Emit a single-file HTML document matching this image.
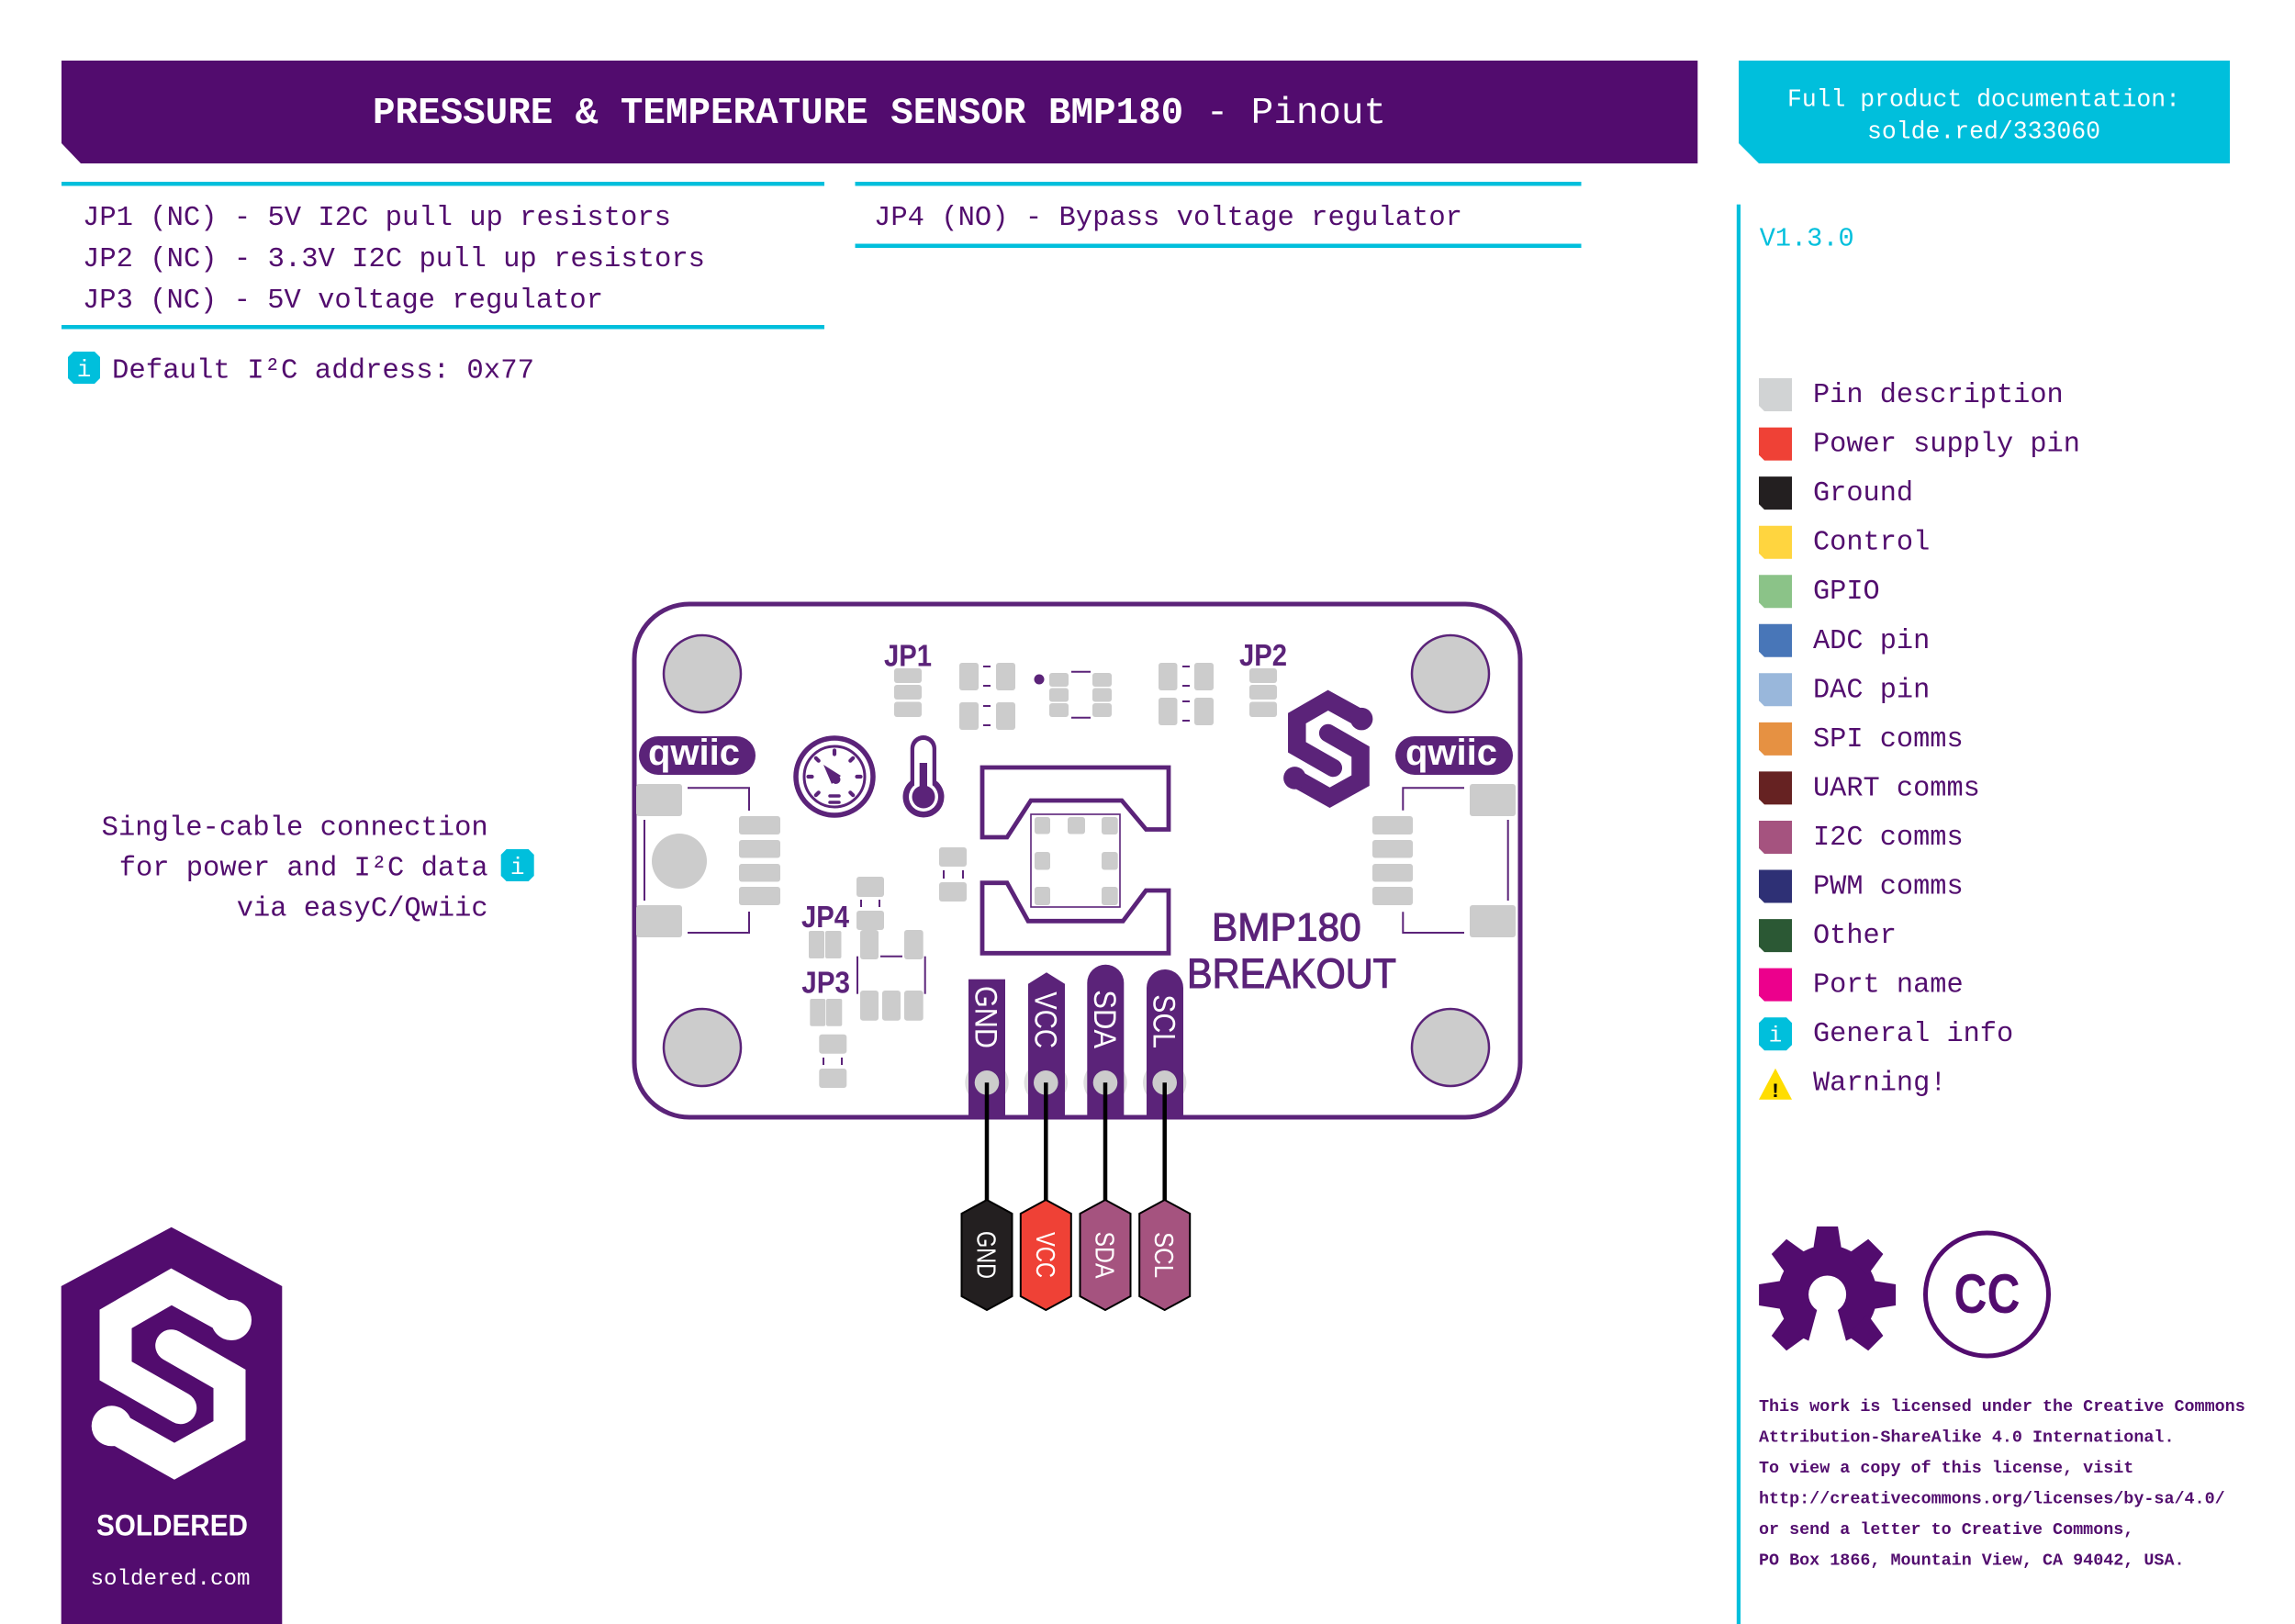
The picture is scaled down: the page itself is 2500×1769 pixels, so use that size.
<!DOCTYPE html>
<html><head><meta charset="utf-8">
<style>
html,body{margin:0;padding:0;background:#fff;}
svg{display:block;}
.m{font-family:"Liberation Mono","DejaVu Sans Mono",monospace;}
.s{font-family:"Liberation Sans","DejaVu Sans",sans-serif;}
</style></head><body>
<svg width="2500" height="1769" viewBox="0 0 2500 1769" xmlns="http://www.w3.org/2000/svg">
<rect width="2500" height="1769" fill="#fff"/>

<!-- Header -->
<polygon points="67,66 1849.3,66 1849.3,178 88,178 67,156" fill="#520c6e"/>
<text x="958" y="134" text-anchor="middle" class="m" font-size="41" fill="#fff" textLength="1104" lengthAdjust="spacingAndGlyphs"><tspan font-weight="bold">PRESSURE &amp; TEMPERATURE SENSOR BMP180</tspan> - Pinout</text>

<polygon points="1894,66 2429,66 2429,178 1916,178 1894,156" fill="#00bfdc"/>
<text x="2161" y="115.7" text-anchor="middle" class="m" font-size="26.4" fill="#fff" textLength="428" lengthAdjust="spacingAndGlyphs">Full product documentation:</text>
<text x="2161" y="150.7" text-anchor="middle" class="m" font-size="26.4" fill="#fff" textLength="254" lengthAdjust="spacingAndGlyphs">solde.red/333060</text>

<!-- cyan rules -->
<rect x="67" y="198" width="831" height="4.5" fill="#00bfdc"/>
<rect x="931.5" y="198" width="791" height="4.5" fill="#00bfdc"/>
<rect x="67" y="354" width="831" height="4.5" fill="#00bfdc"/>
<rect x="931.5" y="265.5" width="791" height="4.5" fill="#00bfdc"/>

<g class="m" font-size="30.6" fill="#520d6e">
<text x="90" y="245" textLength="641" lengthAdjust="spacingAndGlyphs">JP1 (NC) - 5V I2C pull up resistors</text>
<text x="90" y="290" textLength="678" lengthAdjust="spacingAndGlyphs">JP2 (NC) - 3.3V I2C pull up resistors</text>
<text x="90" y="335" textLength="567" lengthAdjust="spacingAndGlyphs">JP3 (NC) - 5V voltage regulator</text>
<text x="952" y="245" textLength="641" lengthAdjust="spacingAndGlyphs">JP4 (NO) - Bypass voltage regulator</text>
<text x="122" y="411.5" textLength="460" lengthAdjust="spacingAndGlyphs">Default I²C address: 0x77</text>
</g>
<polygon points="80,383 103,383 109,389 109,412 103,418 80,418 74,412 74,389" fill="#00bfdc"/>
<text x="91.5" y="410" text-anchor="middle" class="m" font-size="26" fill="#fff">i</text>

<!-- right column -->
<rect x="1891.8" y="222.7" width="4.2" height="1547" fill="#00bfdc"/>
<text x="1916.7" y="267.3" class="m" font-size="29" fill="#00bfdc" textLength="103" lengthAdjust="spacingAndGlyphs">V1.3.0</text>

<g class="m" font-size="30.3" fill="#520d6e">
<polygon points="1916,412 1952,412 1952,448 1922,448 1916,442" fill="#d1d3d4"/>
<text x="1975" y="438">Pin description</text>
<polygon points="1916,465.6 1952,465.6 1952,501.6 1922,501.6 1916,495.6" fill="#ef4136"/>
<text x="1975" y="491.6">Power supply pin</text>
<polygon points="1916,519.1 1952,519.1 1952,555.1 1922,555.1 1916,549.1" fill="#231f20"/>
<text x="1975" y="545.1">Ground</text>
<polygon points="1916,572.7 1952,572.7 1952,608.7 1922,608.7 1916,602.7" fill="#ffd53f"/>
<text x="1975" y="598.7">Control</text>
<polygon points="1916,626.2 1952,626.2 1952,662.2 1922,662.2 1916,656.2" fill="#8bc388"/>
<text x="1975" y="652.2">GPIO</text>
<polygon points="1916,679.8 1952,679.8 1952,715.8 1922,715.8 1916,709.8" fill="#4876b8"/>
<text x="1975" y="705.8">ADC pin</text>
<polygon points="1916,733.3 1952,733.3 1952,769.3 1922,769.3 1916,763.3" fill="#99b7db"/>
<text x="1975" y="759.3">DAC pin</text>
<polygon points="1916,786.9 1952,786.9 1952,822.9 1922,822.9 1916,816.9" fill="#e69142"/>
<text x="1975" y="812.9">SPI comms</text>
<polygon points="1916,840.4 1952,840.4 1952,876.4 1922,876.4 1916,870.4" fill="#662222"/>
<text x="1975" y="866.4">UART comms</text>
<polygon points="1916,894 1952,894 1952,930 1922,930 1916,924" fill="#a5537f"/>
<text x="1975" y="920">I2C comms</text>
<polygon points="1916,947.5 1952,947.5 1952,983.5 1922,983.5 1916,977.5" fill="#2e3075"/>
<text x="1975" y="973.5">PWM comms</text>
<polygon points="1916,1001.1 1952,1001.1 1952,1037.1 1922,1037.1 1916,1031.1" fill="#2b5834"/>
<text x="1975" y="1027.1">Other</text>
<polygon points="1916,1054.6 1952,1054.6 1952,1090.6 1922,1090.6 1916,1084.6" fill="#ec008c"/>
<text x="1975" y="1080.6">Port name</text>
<polygon points="1922,1108.2 1946,1108.2 1952,1114.2 1952,1138.2 1946,1144.2 1922,1144.2 1916,1138.2 1916,1114.2" fill="#00bfdc"/>
<text x="1934" y="1134.5" text-anchor="middle" font-size="24" fill="#fff">i</text>
<text x="1975" y="1134.2">General info</text>
<polygon points="1916,1197.7 1934,1163.7 1952,1197.7" fill="#ffdd00"/>
<text x="1934" y="1195" text-anchor="middle" font-size="22" font-weight="bold" fill="#000">!</text>
<text x="1975" y="1187.7">Warning!</text>
</g>

<!-- left description -->
<g class="m" font-size="30.5" fill="#520d6e" text-anchor="end">
<text x="531.7" y="909.3" textLength="421" lengthAdjust="spacingAndGlyphs">Single-cable connection</text>
<text x="531.7" y="953.3" textLength="402" lengthAdjust="spacingAndGlyphs">for power and I²C data</text>
<text x="531.7" y="997.3" textLength="274" lengthAdjust="spacingAndGlyphs">via easyC/Qwiic</text>
</g>
<polygon points="551.7,925 575.7,925 581.7,931 581.7,954 575.7,960 551.7,960 545.7,954 545.7,931" fill="#00bfdc"/>
<text x="563.7" y="952" text-anchor="middle" class="m" font-size="26" fill="#fff">i</text>

<!-- BOARD -->
<rect x="691" y="658" width="965" height="559" rx="60" fill="#fff" stroke="#5b2379" stroke-width="5"/>

<g fill="#cccccc" stroke="#5b2379" stroke-width="2.5">
<circle cx="765" cy="734" r="42"/>
<circle cx="1580" cy="734" r="42"/>
<circle cx="765" cy="1141" r="42"/>
<circle cx="1580" cy="1141" r="42"/>
</g>

<!-- qwiic logos -->
<rect x="696" y="802" width="127" height="42" rx="21" fill="#5b2379"/>
<text x="756" y="833" text-anchor="middle" class="s" font-size="40" font-weight="bold" fill="#fff" textLength="100" lengthAdjust="spacingAndGlyphs">qwiic</text>
<rect x="1520" y="802" width="128" height="42" rx="21" fill="#5b2379"/>
<text x="1581" y="833" text-anchor="middle" class="s" font-size="40" font-weight="bold" fill="#fff" textLength="100" lengthAdjust="spacingAndGlyphs">qwiic</text>

<!-- gray pads -->
<g fill="#cccccc">
<rect x="693" y="854" width="50" height="35" rx="3"/>
<rect x="693" y="986" width="50" height="35" rx="3"/>
<rect x="805" y="889" width="45" height="20" rx="3"/>
<rect x="805" y="915" width="45" height="19.5" rx="3"/>
<rect x="805" y="941" width="45" height="19.5" rx="3"/>
<rect x="805" y="966" width="45" height="20" rx="3"/>
<circle cx="740" cy="938" r="30"/>
<rect x="1601" y="854" width="50" height="35" rx="3"/>
<rect x="1601" y="986" width="50" height="35" rx="3"/>
<rect x="1495" y="889" width="44" height="20" rx="3"/>
<rect x="1495" y="915" width="44" height="19.5" rx="3"/>
<rect x="1495" y="941" width="44" height="19.5" rx="3"/>
<rect x="1495" y="966" width="44" height="20" rx="3"/>
<rect x="974" y="728" width="30" height="16" rx="3"/>
<rect x="974" y="746" width="30" height="16" rx="3"/>
<rect x="974" y="764.5" width="30" height="16.5" rx="3"/>
<rect x="1361" y="728" width="30" height="16" rx="3"/>
<rect x="1361" y="746" width="30" height="16" rx="3"/>
<rect x="1361" y="764.5" width="30" height="16.5" rx="3"/>
<rect x="1045" y="722" width="21" height="30" rx="3"/>
<rect x="1085" y="722" width="21" height="30" rx="3"/>
<rect x="1045" y="765" width="21" height="30" rx="3"/>
<rect x="1085" y="765" width="21" height="30" rx="3"/>
<rect x="1262" y="722" width="20.5" height="30" rx="3"/>
<rect x="1301" y="722" width="21" height="30" rx="3"/>
<rect x="1262" y="760" width="20.5" height="30" rx="3"/>
<rect x="1301" y="760" width="21" height="30" rx="3"/>
<rect x="1143" y="733" width="21" height="15" rx="3"/>
<rect x="1143" y="749.5" width="21" height="15" rx="3"/>
<rect x="1143" y="766" width="21" height="15" rx="3"/>
<rect x="1190" y="733" width="21" height="15" rx="3"/>
<rect x="1190" y="749.5" width="21" height="15" rx="3"/>
<rect x="1190" y="766" width="21" height="15" rx="3"/>
<rect x="1023" y="923" width="30" height="21" rx="3"/>
<rect x="1023" y="961" width="30" height="21" rx="3"/>
<rect x="933" y="955" width="30" height="22" rx="3"/>
<rect x="933" y="992" width="30" height="21" rx="3"/>
<rect x="881" y="1014" width="17" height="30" rx="2"/>
<rect x="899" y="1014" width="17.5" height="30" rx="2"/>
<rect x="937" y="1013" width="20" height="32" rx="3"/>
<rect x="985" y="1013" width="20.7" height="32" rx="3"/>
<rect x="937" y="1079" width="20" height="32.7" rx="3"/>
<rect x="961" y="1079" width="20" height="32.7" rx="3"/>
<rect x="985" y="1079" width="20.7" height="32.7" rx="3"/>
<rect x="882.3" y="1088" width="17" height="29.7" rx="2"/>
<rect x="900" y="1088" width="17.3" height="29.7" rx="2"/>
<rect x="892.3" y="1126.7" width="30" height="21" rx="3"/>
<rect x="892.3" y="1164" width="30" height="21" rx="3"/>
<rect x="1127" y="890" width="17" height="18.5" rx="3"/>
<rect x="1163" y="890" width="19" height="18.5" rx="3"/>
<rect x="1200" y="890" width="17.7" height="19" rx="3"/>
<rect x="1127" y="928" width="17" height="19.5" rx="3"/>
<rect x="1200" y="928" width="17.7" height="19.5" rx="3"/>
<rect x="1127" y="966" width="17" height="20" rx="3"/>
<rect x="1200" y="966" width="17.7" height="20" rx="3"/>
</g>

<!-- thin silkscreen lines -->
<g stroke="#5b2379" stroke-width="2" fill="none">
<polyline points="749,858.3 816,858.3 816,883"/>
<line x1="702" y1="893" x2="702" y2="981"/>
<polyline points="816,993 816,1016 749,1016"/>
<polyline points="1595,858.3 1528.3,858.3 1528.3,882.7"/>
<line x1="1642.7" y1="893" x2="1642.7" y2="981"/>
<polyline points="1528.3,993.3 1528.3,1016 1595,1016"/>
<line x1="1071" y1="726" x2="1079" y2="726"/>
<line x1="1071" y1="747" x2="1079" y2="747"/>
<line x1="1071" y1="769" x2="1079" y2="769"/>
<line x1="1071" y1="790" x2="1079" y2="790"/>
<line x1="1288" y1="726" x2="1296" y2="726"/>
<line x1="1288" y1="747" x2="1296" y2="747"/>
<line x1="1288" y1="764" x2="1296" y2="764"/>
<line x1="1288" y1="785" x2="1296" y2="785"/>
<line x1="1167" y1="731.7" x2="1188" y2="731.7"/>
<line x1="1167" y1="781.7" x2="1188" y2="781.7"/>
<line x1="1028" y1="948" x2="1028" y2="957"/>
<line x1="1049" y1="948" x2="1049" y2="957"/>
<line x1="938" y1="980" x2="938" y2="988"/>
<line x1="958" y1="980" x2="958" y2="988"/>
<line x1="959" y1="1041.7" x2="983" y2="1041.7"/>
<line x1="934" y1="1041.7" x2="934" y2="1082.7"/>
<line x1="1007.7" y1="1041.7" x2="1007.7" y2="1082.7"/>
<line x1="897" y1="1152" x2="897" y2="1160"/>
<line x1="917" y1="1152" x2="917" y2="1160"/>
<rect x="1123" y="887" width="97" height="101" stroke-width="1.6"/>
</g>
<circle cx="1132" cy="740" r="5.5" fill="#5b2379"/>

<!-- sensor outline -->
<g stroke="#5b2379" stroke-width="4.8" fill="none" stroke-linejoin="miter">
<polygon points="1070,836 1273,836 1273,903.5 1248.5,903.5 1222,872 1123,872 1097,912 1070,912"/>
<polygon points="1070,961.7 1097,961.7 1120,1003.3 1223.3,1003.3 1248.3,970 1273,970 1273,1038.3 1070,1038.3"/>
</g>

<!-- gauge -->
<g stroke="#5b2379" fill="none">
<circle cx="909" cy="846" r="42" stroke-width="5.5"/>
<circle cx="909" cy="846" r="33" stroke-width="3"/>
<g stroke-width="4.2" stroke-linecap="round">
<line x1="909" y1="821.5" x2="909" y2="817.5"/>
<line x1="933.5" y1="846" x2="937.5" y2="846"/>
<line x1="884.5" y1="846" x2="880.5" y2="846"/>
<line x1="926.3" y1="828.7" x2="929.2" y2="825.8"/>
<line x1="891.7" y1="828.7" x2="888.8" y2="825.8"/>
<line x1="926.3" y1="863.3" x2="929.2" y2="866.2"/>
<line x1="891.7" y1="863.3" x2="888.8" y2="866.2"/>
</g>
<g stroke-width="3.5" stroke-linecap="round">
<line x1="904" y1="867" x2="914" y2="867"/>
<line x1="904" y1="874" x2="914" y2="874"/>
</g>
</g>
<path d="M897,833 L916,845 L906,854 Z" fill="#5b2379"/>
<circle cx="910.5" cy="849" r="5" fill="#5b2379"/>

<!-- thermometer -->
<rect x="991.7" y="801" width="28.3" height="70" rx="14.15" fill="#5b2379"/>
<circle cx="1006" cy="868" r="22.5" fill="#5b2379"/>
<rect x="996" y="806" width="19.7" height="62" rx="9.85" fill="#fff"/>
<circle cx="1006" cy="868" r="16" fill="#fff"/>
<rect x="1001.7" y="831" width="8.3" height="40" fill="#5b2379"/>
<circle cx="1006" cy="868" r="12.5" fill="#5b2379"/>

<!-- board S logo -->
<g transform="translate(1342.5,-19.3) scale(0.558)" stroke="#5b2379" fill="#5b2379">
<path d="M253.3,1438.3 L186.7,1401.7 L126,1436.7 L126,1493.3 L196.7,1533.7" fill="none" stroke-width="35" stroke-linejoin="miter" stroke-linecap="round"/>
<path d="M186.7,1465.7 L250,1502 L250,1558.3 L190,1591.7 L121.7,1553.3" fill="none" stroke-width="35" stroke-linejoin="miter" stroke-linecap="round"/>
<circle cx="252" cy="1438" r="22" stroke="none"/>
<circle cx="121.7" cy="1553.3" r="22" stroke="none"/>
</g>

<!-- board labels -->
<g class="s" fill="#5b2379" font-weight="bold" font-size="33">
<text x="963" y="725.7" textLength="52" lengthAdjust="spacingAndGlyphs">JP1</text>
<text x="1350" y="725" textLength="52" lengthAdjust="spacingAndGlyphs">JP2</text>
<text x="873" y="1010" textLength="52" lengthAdjust="spacingAndGlyphs">JP4</text>
<text x="873.3" y="1081.7" textLength="52.7" lengthAdjust="spacingAndGlyphs">JP3</text>
</g>
<g class="s" fill="#5b2379" stroke="#5b2379" stroke-width="1.1">
<text x="1320" y="1024.3" font-size="43" textLength="162.7" lengthAdjust="spacingAndGlyphs">BMP180</text>
<text x="1293" y="1076" font-size="45" textLength="228" lengthAdjust="spacingAndGlyphs">BREAKOUT</text>
</g>

<!-- pin pad halos -->
<g fill="#dedede">
<circle cx="1075" cy="1179.3" r="23.7"/>
<circle cx="1139.3" cy="1179.3" r="23.7"/>
<circle cx="1204" cy="1179.3" r="23.7"/>
<circle cx="1268.7" cy="1179.3" r="23.7"/>
</g>
<!-- pin tabs -->
<g fill="#5b2379">
<rect x="1055" y="1066.7" width="40" height="152"/>
<polygon points="1120,1218.5 1120,1071.7 1140,1059.3 1160,1071.7 1160,1218.5"/>
<path d="M1184.3,1218.5 V1070.7 A20,20 0 0 1 1224.3,1070.7 V1218.5 Z"/>
<path d="M1249,1218.5 V1076 A20,20 0 0 1 1289,1076 V1218.5 Z"/>
</g>
<g class="s" fill="#fff" font-size="34" text-anchor="end">
<text transform="translate(1062.5,1142) rotate(90)" textLength="68" lengthAdjust="spacingAndGlyphs">GND</text>
<text transform="translate(1127.5,1142) rotate(90)" textLength="61.7" lengthAdjust="spacingAndGlyphs">VCC</text>
<text transform="translate(1191.8,1142) rotate(90)" textLength="63.7" lengthAdjust="spacingAndGlyphs">SDA</text>
<text transform="translate(1256.5,1142) rotate(90)" textLength="58.7" lengthAdjust="spacingAndGlyphs">SCL</text>
</g>
<g fill="#cccccc">
<circle cx="1075" cy="1179.3" r="13.3"/>
<circle cx="1139.3" cy="1179.3" r="13.3"/>
<circle cx="1204" cy="1179.3" r="13.3"/>
<circle cx="1268.7" cy="1179.3" r="13.3"/>
</g>

<!-- wires -->
<g stroke="#000" stroke-width="4.5">
<line x1="1075" y1="1179.3" x2="1075" y2="1309"/>
<line x1="1139.3" y1="1179.3" x2="1139.3" y2="1309"/>
<line x1="1204" y1="1179.3" x2="1204" y2="1309"/>
<line x1="1268.7" y1="1179.3" x2="1268.7" y2="1309"/>
</g>
<!-- pin hexagons -->
<g stroke="#000" stroke-width="2">
<polygon points="1075,1307 1102.5,1322 1102.5,1412 1075,1427 1047.5,1412 1047.5,1322" fill="#231f20"/>
<polygon points="1139.3,1307 1166.8,1322 1166.8,1412 1139.3,1427 1111.8,1412 1111.8,1322" fill="#ef4136"/>
<polygon points="1204,1307 1231.5,1322 1231.5,1412 1204,1427 1176.5,1412 1176.5,1322" fill="#a5537f"/>
<polygon points="1268.7,1307 1296.2,1322 1296.2,1412 1268.7,1427 1241.2,1412 1241.2,1322" fill="#a5537f"/>
</g>
<g class="s" fill="#fff" font-size="29" text-anchor="middle">
<text transform="translate(1064.5,1367) rotate(90)" textLength="52" lengthAdjust="spacingAndGlyphs">GND</text>
<text transform="translate(1128.8,1367) rotate(90)" textLength="50" lengthAdjust="spacingAndGlyphs">VCC</text>
<text transform="translate(1193.5,1367) rotate(90)" textLength="51" lengthAdjust="spacingAndGlyphs">SDA</text>
<text transform="translate(1258.2,1367) rotate(90)" textLength="50" lengthAdjust="spacingAndGlyphs">SCL</text>
</g>

<!-- Soldered logo bottom-left -->
<polygon points="66.7,1401 186.7,1336.7 307.3,1401 307.3,1769 66.7,1769" fill="#520c6e"/>
<g stroke="#fff" fill="#fff">
<path d="M253.3,1438.3 L186.7,1401.7 L126,1436.7 L126,1493.3 L196.7,1533.7" fill="none" stroke-width="35" stroke-linejoin="miter" stroke-linecap="round"/>
<path d="M186.7,1465.7 L250,1502 L250,1558.3 L190,1591.7 L121.7,1553.3" fill="none" stroke-width="35" stroke-linejoin="miter" stroke-linecap="round"/>
<circle cx="252" cy="1438" r="22" stroke="none"/>
<circle cx="121.7" cy="1553.3" r="22" stroke="none"/>
</g>
<text x="187.5" y="1672.7" text-anchor="middle" class="s" font-size="32" font-weight="bold" fill="#fff" textLength="165" lengthAdjust="spacingAndGlyphs">SOLDERED</text>
<text x="185.5" y="1726" text-anchor="middle" class="m" font-size="24.2" fill="#fff" textLength="174" lengthAdjust="spacingAndGlyphs">soldered.com</text>

<!-- OSHW gear -->
<g transform="translate(1990.6,1410.5)" fill="#520c6e">
<circle r="54"/>
<polygon points="46,-16 74.5,-11.5 74.5,11.5 46,16" transform="rotate(0)"/>
<polygon points="46,-16 74.5,-11.5 74.5,11.5 46,16" transform="rotate(45)"/>
<polygon points="46,-16 74.5,-11.5 74.5,11.5 46,16" transform="rotate(135)"/>
<polygon points="46,-16 74.5,-11.5 74.5,11.5 46,16" transform="rotate(180)"/>
<polygon points="46,-16 74.5,-11.5 74.5,11.5 46,16" transform="rotate(225)"/>
<polygon points="46,-16 74.5,-11.5 74.5,11.5 46,16" transform="rotate(270)"/>
<polygon points="46,-16 74.5,-11.5 74.5,11.5 46,16" transform="rotate(315)"/>
<circle r="20.5" cy="-0.5" fill="#fff"/>
<polygon points="-9,8 9,8 22.5,58 -22.5,58" fill="#fff"/>
</g>

<!-- CC -->
<circle cx="2164.5" cy="1410" r="67" fill="none" stroke="#520c6e" stroke-width="5"/>
<text x="2164.5" y="1430" text-anchor="middle" class="s" font-size="60" font-weight="bold" fill="#520c6e" textLength="72" lengthAdjust="spacingAndGlyphs">CC</text>

<!-- license -->
<g class="m" font-size="18.4" font-weight="bold" fill="#520d6e">
<text x="1916" y="1537">This work is licensed under the Creative Commons</text>
<text x="1916" y="1570.5">Attribution-ShareAlike 4.0 International.</text>
<text x="1916" y="1604">To view a copy of this license, visit</text>
<text x="1916" y="1637.5">http://creativecommons.org/licenses/by-sa/4.0/</text>
<text x="1916" y="1671">or send a letter to Creative Commons,</text>
<text x="1916" y="1704.5">PO Box 1866, Mountain View, CA 94042, USA.</text>
</g>
</svg>
</body></html>
